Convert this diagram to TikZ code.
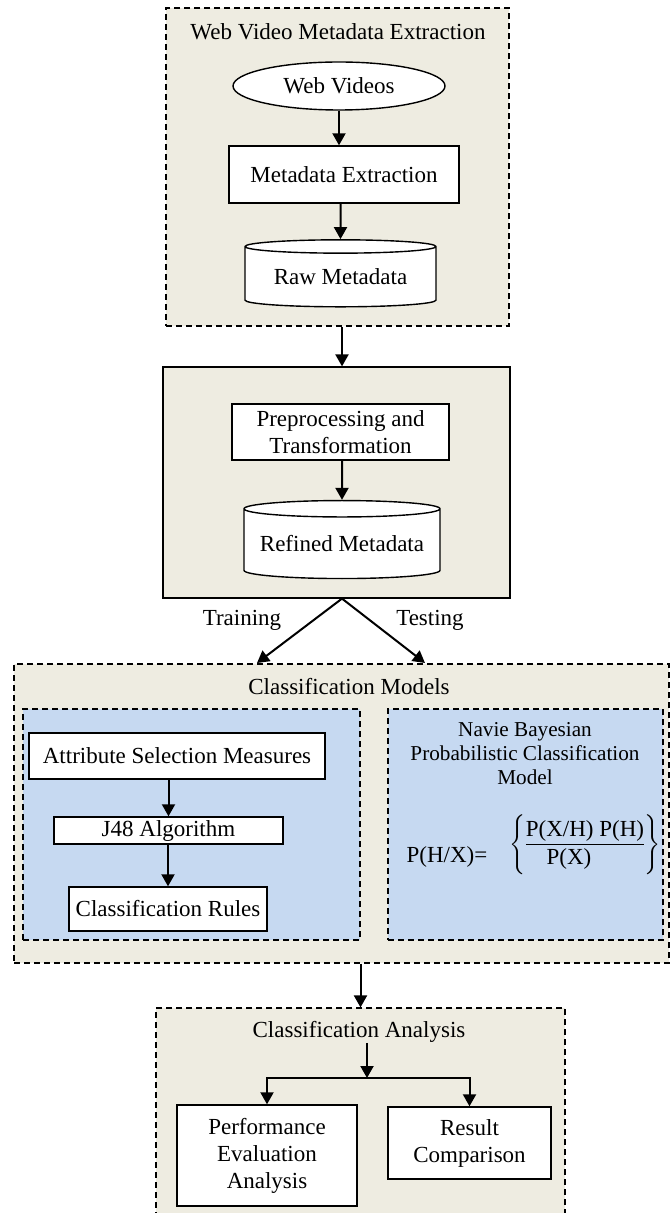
\documentclass[tikz,border=0pt]{standalone}
\usepackage{fontspec}
\setmainfont{Liberation Serif}
\usepackage{tikz}
\usetikzlibrary{arrows.meta,shapes.geometric}
\definecolor{beige}{HTML}{EEECE1}
\definecolor{paleblue}{HTML}{C6D9F1}

\begin{document}
\begin{tikzpicture}[x=0.5pt,y=-0.5pt]
\tikzset{every node/.style={font=\fontsize{11.5}{13.5}\selectfont,align=center,inner sep=0pt},
         panel/.style={draw,fill=beige,line width=0.6pt},
         dashpanel/.style={panel,dash pattern=on 3pt off 2pt},
         bluepanel/.style={dashpanel,fill=paleblue},
         stepbox/.style={draw,fill=white,line width=0.7pt},
         store/.style={cylinder,shape border rotate=90,shape aspect=0.1,draw,fill=white,line width=0.7pt},
         arr/.style={-{Triangle[length=6pt,width=6.5pt]},line width=1pt}}
\useasboundingbox (0,0) rectangle (671,1213);
% panels
\node[dashpanel,minimum width=171.5pt,minimum height=159pt] (box1) at (337.5,167) {};
\node[panel,minimum width=173.5pt,minimum height=115.5pt] (box2) at (336.5,482.5) {};
\node[dashpanel,minimum width=327.5pt,minimum height=149.5pt] (box3) at (341.5,813.5) {};
\node[bluepanel,minimum width=168.5pt,minimum height=115.5pt] (treebox) at (191.5,824.5) {};
\node[bluepanel,minimum width=137.5pt,minimum height=115.5pt] (bayesbox) at (525.5,824.5) {};
\node[dashpanel,minimum width=204.5pt,minimum height=104pt] (box4) at (360.5,1112) {};
% extraction
\node (title1) at (338,32) {Web Video Metadata Extraction};
\node[ellipse,draw,fill=white,line width=0.7pt,minimum width=106pt,minimum height=24pt] (videos) at (339,86) {Web Videos};
\node[stepbox,minimum width=115pt,minimum height=28.5pt] (extract) at (344,174.5) {Metadata Extraction};
\node[store,minimum width=95.5pt,minimum height=33.5pt] (raw) at (340.5,277) {Raw Metadata};
% preprocessing
\node[stepbox,minimum width=108.5pt,minimum height=28pt] (prep) at (340.5,432) {Preprocessing and\\Transformation};
\node[store,minimum width=98pt,minimum height=39pt] (refined) at (342,544) {Refined Metadata};
\node (training) at (242,620) {Training};
\node (testing) at (430,620) {Testing};
\coordinate (trainend) at (257,663);
\coordinate (testend) at (425,663);
% models
\node (title3) at (349,687) {Classification Models};
\node[stepbox,minimum width=148pt,minimum height=23pt] (attr) at (177,756) {Attribute Selection Measures};
\node[stepbox,minimum width=114.5pt,minimum height=13.5pt] (jalg) at (168.5,830.5) {J48 Algorithm};
\node[stepbox,minimum width=99pt,minimum height=22pt] (rules) at (168,909) {Classification Rules};
\node[font=\fontsize{10.6}{12}\selectfont] (navie) at (525,754) {Navie Bayesian\\Probabilistic Classification\\Model};
\node (lhs) at (447,857) {P(H/X)=};
\node (rhs) at (585,845) {$\left\{\begin{tabular}{@{}l@{}}\underline{P(X/H) P(H)}\\\hspace{0.9em}P(X)\end{tabular}\right\}$};
% analysis
\node (title4) at (359,1032) {Classification Analysis};
\coordinate (split) at (367,1078);
\node[stepbox,minimum width=90pt,minimum height=50.5pt] (perf) at (267,1155.5) {Performance\\Evaluation\\Analysis};
\node[stepbox,minimum width=81.5pt,minimum height=36pt] (result) at (469.5,1143) {Result\\Comparison};
% connectors
\draw[arr] (videos.south) -- (videos.south |- extract.north);
\draw[arr] (extract.south -| raw) -- (raw.north);
\draw[arr] (box1.south -| refined) -- (box2.north -| refined);
\draw[arr] (prep.south -| refined) -- (refined.north);
\draw[arr] (box2.south -| refined) -- (trainend);
\draw[arr] (box2.south -| refined) -- (testend);
\draw[arr] (attr.south -| jalg) -- (jalg.north);
\draw[arr] (jalg.south -| rules) -- (rules.north);
\draw[arr] (box4.north |- box3.south) -- (box4.north);
\draw[arr] (title4.south -| split) -- (split);
\draw[arr] (split) -| (perf.north);
\draw[arr] (split) -| (result.north);
\end{tikzpicture}
\end{document}
